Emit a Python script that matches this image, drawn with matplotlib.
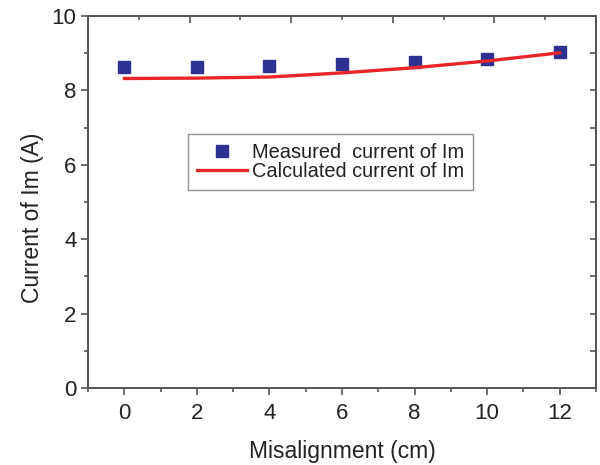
import matplotlib.pyplot as plt
from matplotlib.ticker import MultipleLocator, NullFormatter
import numpy as np

plt.rcParams['font.family'] = ['Liberation Sans', 'DejaVu Sans']

misalign = [0, 2, 4, 6, 8, 10, 12]
measured = [8.63, 8.64, 8.66, 8.71, 8.75, 8.84, 9.02]
calculated = [8.32, 8.33, 8.36, 8.47, 8.61, 8.79, 9.01]

spine_col = '#555555'
text_col = '#222222'

fig = plt.figure(figsize=(6, 4.65), dpi=100)
ax = fig.add_axes([0.147, 0.1656, 0.846, 0.80])

ax.plot(misalign, measured, 's', color='#2e3192', markersize=8.5,
        linestyle='none', label='Measured  current of Im')
ax.plot(misalign, calculated, '-', color='#e8262a', linewidth=2.4,
        label='Calculated current of Im')

ax.set_xlim(-1, 13)
ax.set_ylim(0, 10)
ax.xaxis.set_major_locator(MultipleLocator(2))
ax.xaxis.set_minor_locator(MultipleLocator(1))
ax.yaxis.set_major_locator(MultipleLocator(2))
ax.yaxis.set_minor_locator(MultipleLocator(1))
ax.tick_params(which='major', direction='out', length=5, width=1.2,
               color=spine_col, labelsize=16, labelcolor=text_col)
ax.tick_params(which='minor', direction='out', length=3, width=1.2,
               color=spine_col)
ax.tick_params(axis='x', pad=6)

for s in ax.spines.values():
    s.set_color(spine_col)
    s.set_linewidth(1.4)

# top axis (independent 0-10 scale, no labels)
top = ax.secondary_xaxis('top', functions=(lambda x: (x + 1) / 1.4,
                                           lambda t: t * 1.4 - 1))
top.xaxis.set_major_locator(MultipleLocator(2))
top.xaxis.set_minor_locator(MultipleLocator(1))
top.xaxis.set_major_formatter(NullFormatter())
top.tick_params(which='major', direction='in', length=5, width=1.2, color=spine_col)
top.tick_params(which='minor', direction='in', length=3, width=1.2, color=spine_col)
top.spines['top'].set_color(spine_col)
top.spines['top'].set_linewidth(1.4)

right = ax.secondary_yaxis('right')
right.yaxis.set_major_locator(MultipleLocator(1))
right.yaxis.set_major_formatter(NullFormatter())
right.tick_params(which='both', direction='in', length=4, width=1.2, color=spine_col)
right.spines['right'].set_color(spine_col)
right.spines['right'].set_linewidth(1.4)

ax.set_xlabel('Misalignment (cm)', fontsize=16.5, color=text_col)
ax.xaxis.set_label_coords(0.5, -0.14)
ax.set_ylabel('Current of Im (A)', fontsize=16.5, color=text_col)
ax.yaxis.set_label_coords(-0.088, 0.457)

leg = ax.legend(loc='upper left', bbox_to_anchor=(0.197, 0.683), fontsize=14.4,
                frameon=True, fancybox=False, edgecolor='#777777',
                handlelength=2.5, handletextpad=0.25, borderpad=0.45,
                labelspacing=0.0, borderaxespad=0)
leg.get_frame().set_linewidth(1.0)
for t in leg.get_texts():
    t.set_color(text_col)

plt.savefig('out.png', dpi=100)
